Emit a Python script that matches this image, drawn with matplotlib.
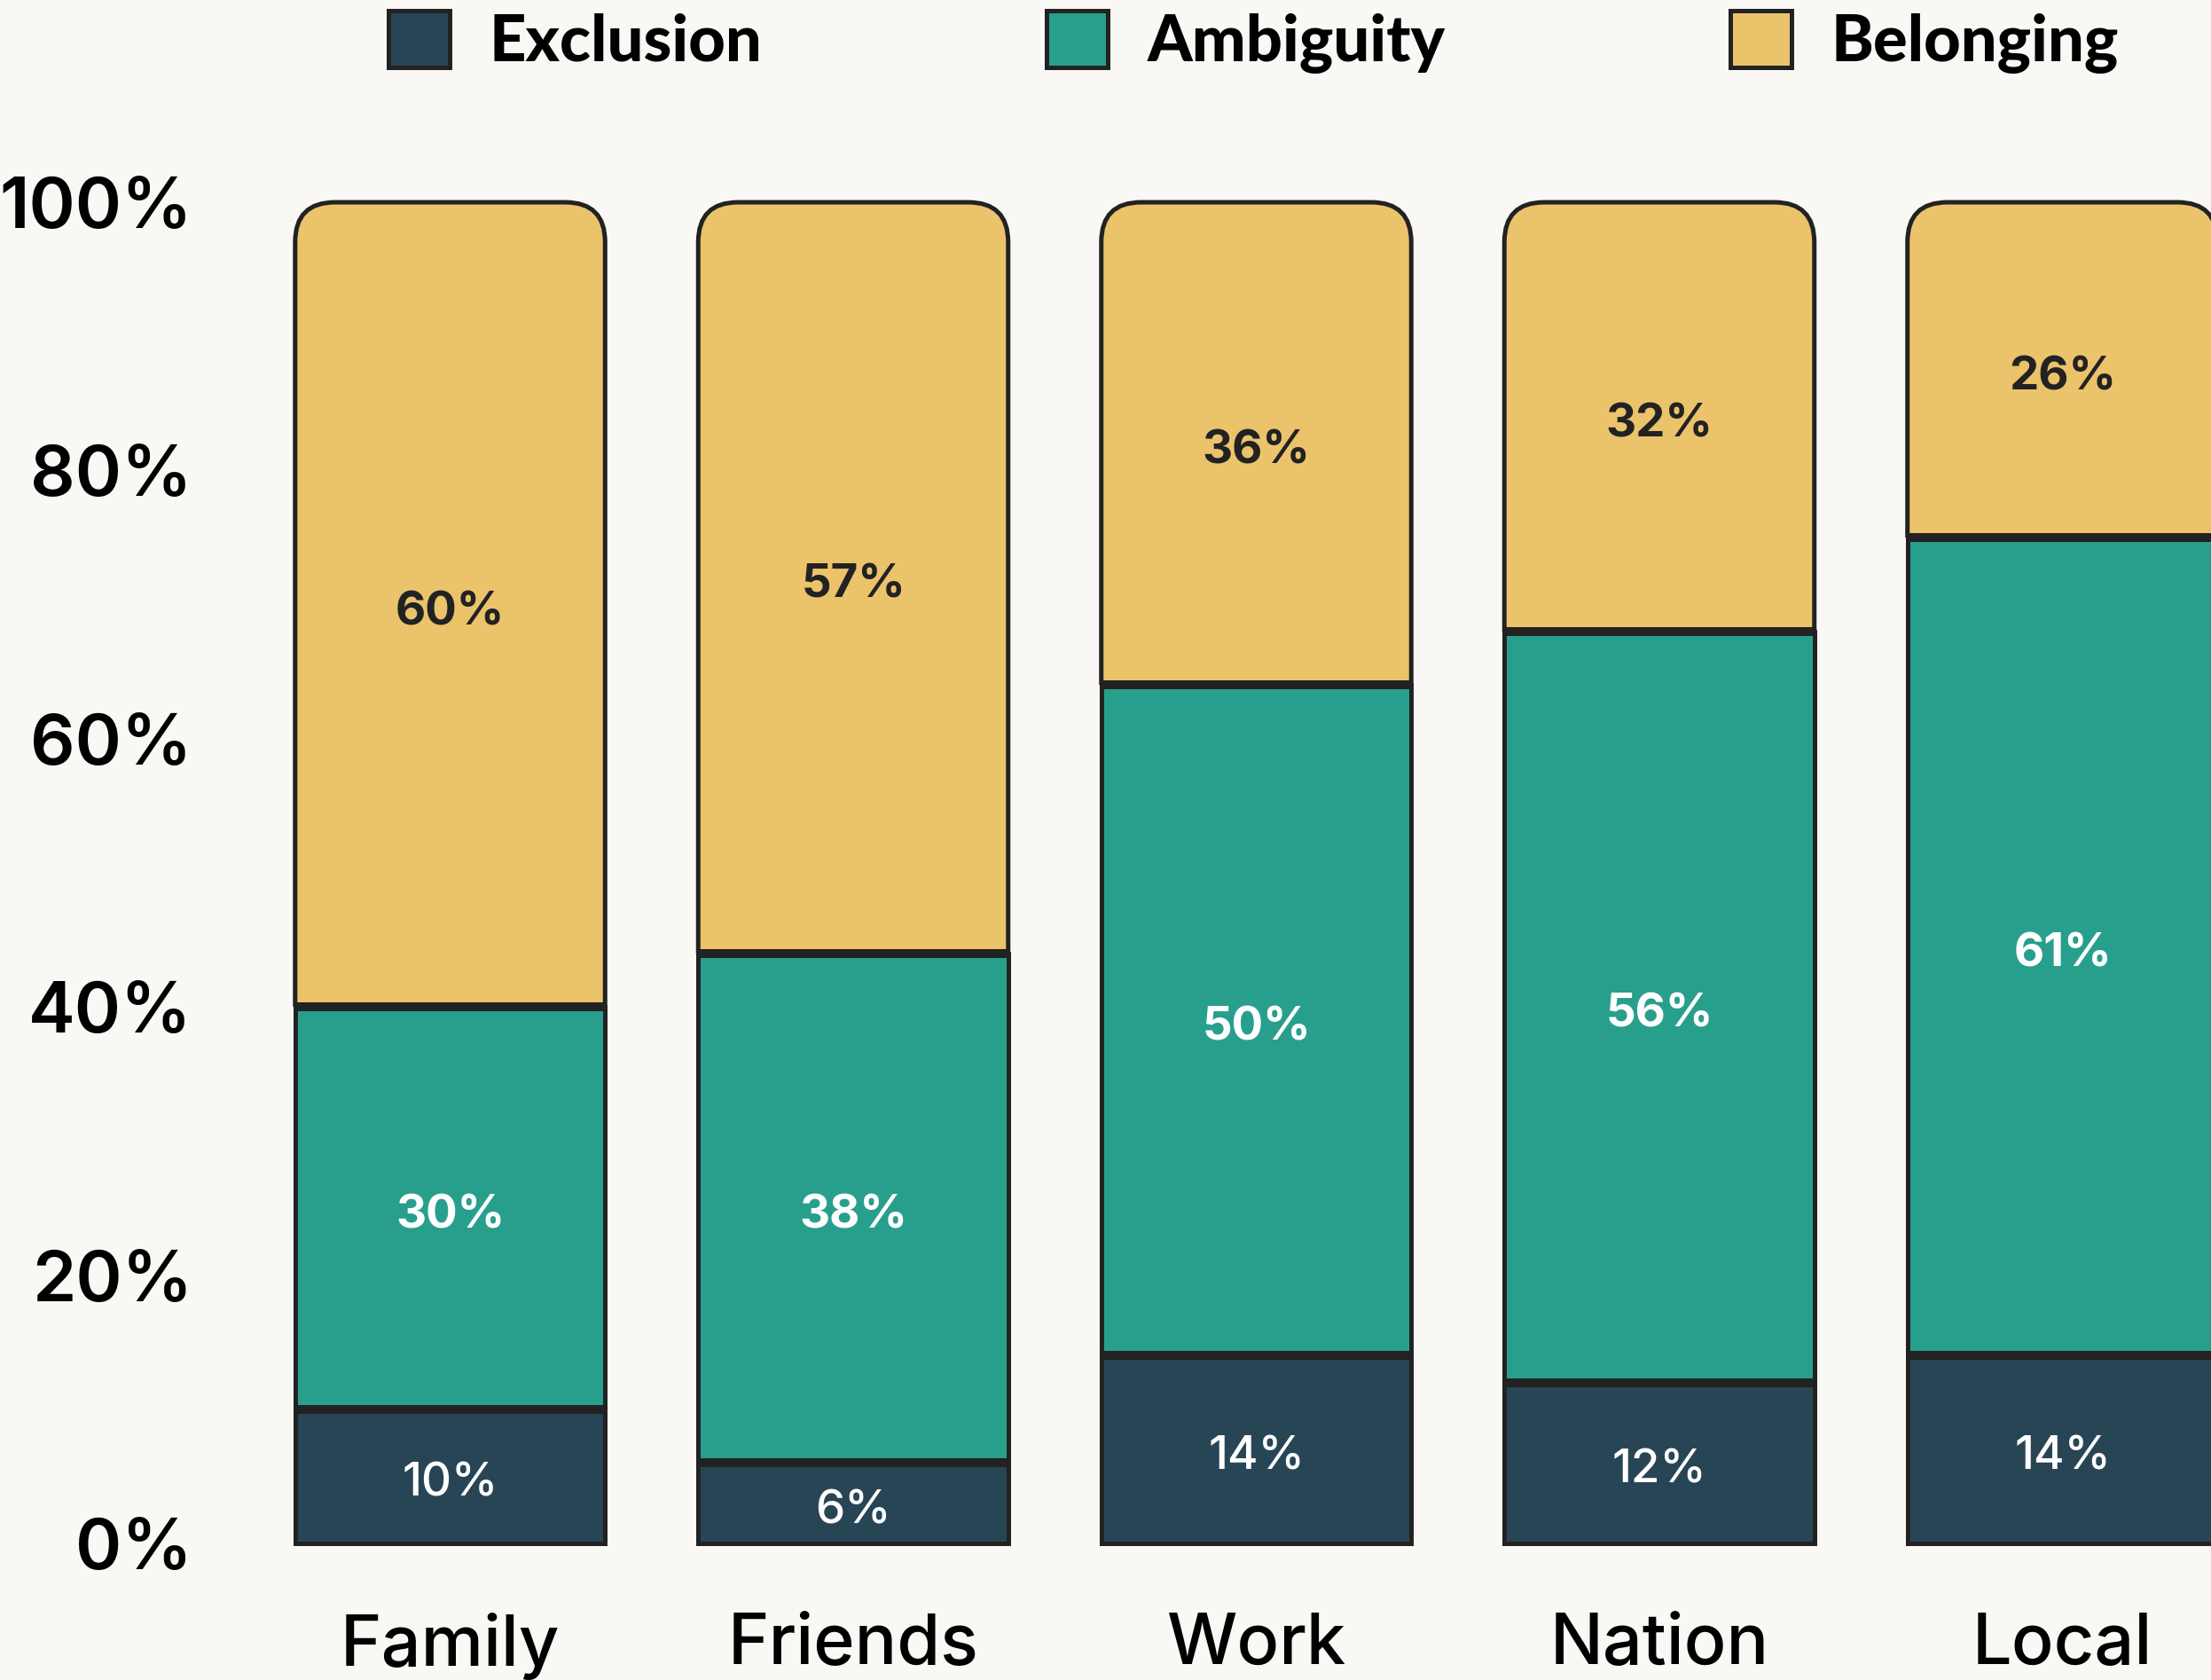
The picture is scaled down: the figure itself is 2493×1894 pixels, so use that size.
import numpy as np
import matplotlib
matplotlib.use("Agg")
import matplotlib.pyplot as plt
from matplotlib.patches import FancyBboxPatch, Rectangle, Patch

categories = ["Family", "Friends", "Work", "Nation", "Local"]
exclusion = [10, 6, 14, 12, 14]
ambiguity = [30, 38, 50, 56, 61]
belonging = [60, 57, 36, 32, 26]

series_names = ["Exclusion", "Ambiguity", "Belonging"]
colors = ["#284555", "#289f8d", "#ebc36b"]
label_colors = ["white", "white", "#222222"]
label_weights = ["medium", "bold", "bold"]
edge = "#222222"
bg = "#f9f8f4"

plt.rcParams["font.family"] = ["Inter", "DejaVu Sans"]

fig = plt.figure(figsize=(24.93, 18.94), dpi=100, facecolor=bg)
ax = fig.add_axes([0.0942, 0.0813, 0.9058, 0.7983])
ax.set_facecolor(bg)

x = np.arange(len(categories))
width = 0.769
vals = np.array([exclusion, ambiguity, belonging], dtype=float)
bottoms = np.vstack([np.zeros(len(categories)), np.cumsum(vals, axis=0)[:-1]])
# stacks that add up past 100 are cut at the 100% line
heights = np.minimum(vals, 100 - bottoms)

ax.set_xlim(-0.6, 4.3686)
ax.set_ylim(0, 100)

# aspect between x and y units in pixels, for the rounded top corners
asp = 454.5 / 15.12
r = 0.099

for i in range(3):
    for j in range(len(categories)):
        b = bottoms[i, j]
        h = heights[i, j]
        if i < 2:
            ax.bar(x[j], h, width, bottom=b, color=colors[i], edgecolor=edge,
                   linewidth=3.6, clip_on=False, zorder=2)
        else:
            p = FancyBboxPatch((x[j] - width / 2, b - 10), width, h + 10,
                               boxstyle=f"round,pad=0,rounding_size={r}",
                               mutation_aspect=asp, facecolor=colors[i],
                               edgecolor=edge, linewidth=3.6, zorder=2)
            ax.add_patch(p)
            p.set_clip_path(Rectangle((x[j] - width, b), 2 * width, h + 5,
                                      transform=ax.transData))
        ax.text(x[j], b + h / 2 - 0.6, f"{vals[i, j]:.0f}%", ha="center",
                va="center", color=label_colors[i], fontsize=38,
                fontweight=label_weights[i], zorder=4)

# thick separators between segments
for i in range(1, 3):
    ax.hlines(bottoms[i], x - width / 2, x + width / 2, colors=edge,
              linewidth=7.2, zorder=3, clip_on=False)

ax.set_xticks(x)
ax.set_xticklabels(categories, fontsize=57, fontweight="medium")
ax.set_yticks([0, 20, 40, 60, 80, 100])
ax.set_yticklabels(["0%", "20%", "40%", "60%", "80%", "100%"], fontsize=57,
                   fontweight="semibold")
ax.tick_params(axis="both", length=0)
ax.tick_params(axis="x", pad=56)
ax.tick_params(axis="y", pad=13)
for s in ax.spines.values():
    s.set_visible(False)

handles = [Patch(facecolor=c, edgecolor=edge, linewidth=3.6) for c in colors]
fig.legend(handles, series_names, loc="center", bbox_to_anchor=(0.567, 0.975),
           ncol=3, frameon=False, prop={"family": "Lato", "weight": "black", "size": 52},
           handlelength=0.95, handleheight=1.0, handletextpad=0.62,
           columnspacing=4.45)

fig.savefig("out.png", dpi=100, facecolor=bg)
